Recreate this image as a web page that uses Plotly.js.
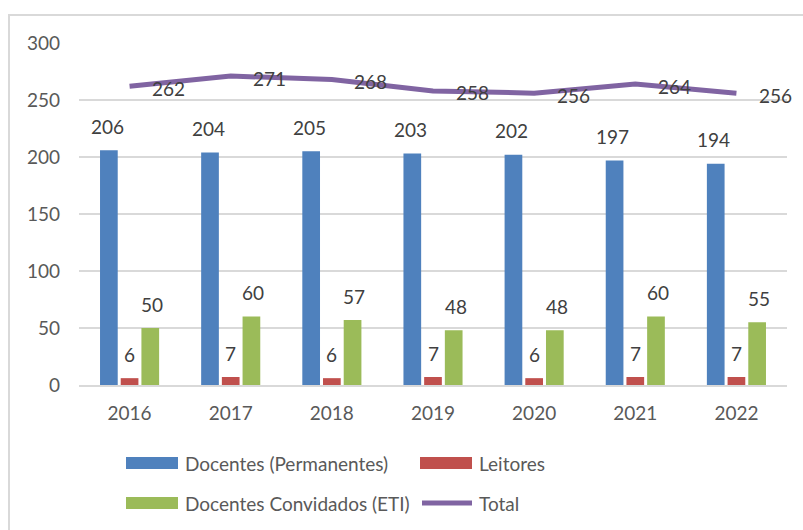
<!DOCTYPE html>
<html>
<head>
<meta charset="utf-8">
<script src="https://cdn.plot.ly/plotly-3.0.1.min.js"></script>
<style>
  body { margin: 0; background: #fff; }
  #plot { width: 803px; height: 530px; }
  #frame { position: absolute; left: 8px; top: 14px; width: 900px; height: 600px;
           border: 2px solid #d9d9d9; pointer-events: none; }
</style>
</head>
<body>
<div id="plot"></div>
<div id="frame"></div>
<script>
var years = ['2016', '2017', '2018', '2019', '2020', '2021', '2022'];
var permanentes = [206, 204, 205, 203, 202, 197, 194];
var leitores = [6, 7, 6, 7, 6, 7, 7];
var convidados = [50, 60, 57, 48, 48, 60, 55];
var total = [262, 271, 268, 258, 256, 264, 256];

var names = ['Docentes (Permanentes)', 'Leitores', 'Docentes Convidados (ETI)', 'Total'];
var colors = ['#4f81bd', '#c0504d', '#9bbb59', '#8064a2'];
var font = 'Lato, "Open Sans", sans-serif';

var barSeries = [permanentes, leitores, convidados];
var traces = [];
for (var s = 0; s < barSeries.length; s++) {
  traces.push({
    type: 'bar', x: years, y: barSeries[s], name: names[s],
    marker: { color: colors[s] }, hoverinfo: 'x+y+name'
  });
}
traces.push({
  type: 'scatter', mode: 'lines', x: years, y: total, name: names[3],
  line: { color: colors[3], width: 5 }
});

// data labels (x given as category index)
var annotations = [];
var shifts = [-22.5, 0, 22.5];
for (var s = 0; s < barSeries.length; s++) {
  for (var i = 0; i < years.length; i++) {
    annotations.push({
      x: i, y: barSeries[s][i], text: String(barSeries[s][i]),
      xref: 'x', yref: 'y', showarrow: false, xshift: shifts[s], yshift: 24,
      font: { family: font, size: 19, color: '#404040' }
    });
  }
}
for (var i = 0; i < years.length; i++) {
  annotations.push({
    x: i, y: total[i], text: String(total[i]),
    xref: 'x', yref: 'y', showarrow: false, xshift: 39, yshift: -2,
    font: { family: font, size: 19, color: '#404040' }
  });
}

// custom legend (2 x 2)
function px(v) { return (v - 79) / 708; }
function py(v) { return (385 - v) / 342; }
var legendPos = [[126, 463], [420, 463], [126, 503], [420, 503]];
var shapes = [];
for (var k = 0; k < 4; k++) {
  var lx = legendPos[k][0], ly = legendPos[k][1];
  if (k < 3) {
    shapes.push({ type: 'rect', xref: 'paper', yref: 'paper',
      x0: px(lx), x1: px(lx + 52), y0: py(ly + 6), y1: py(ly - 6),
      fillcolor: colors[k], line: { width: 0 } });
  } else {
    shapes.push({ type: 'line', xref: 'paper', yref: 'paper',
      x0: px(lx + 2), x1: px(lx + 52), y0: py(ly), y1: py(ly),
      line: { color: colors[k], width: 5 } });
  }
  annotations.push({
    xref: 'paper', yref: 'paper', x: px(lx + 57), y: py(ly),
    xanchor: 'left', yanchor: 'middle', showarrow: false, text: names[k],
    font: { family: font, size: 19, color: '#595959' }
  });
}

var layout = {
  width: 803, height: 530,
  margin: { l: 79, r: 16, t: 43, b: 145 },
  paper_bgcolor: '#fff', plot_bgcolor: '#fff',
  font: { family: font, size: 19, color: '#595959' },
  barmode: 'group', bargap: 0.386, bargroupgap: 0.145,
  showlegend: false,
  xaxis: {
    type: 'category', range: [-0.5, 6.5], showgrid: false, showline: true,
    linecolor: '#d9d9d9', linewidth: 2, ticks: '', ticklabelstandoff: 10,
    tickfont: { family: font, size: 19, color: '#595959' }
  },
  yaxis: {
    range: [0, 300], dtick: 50, showgrid: true, gridcolor: '#d9d9d9', gridwidth: 2,
    zeroline: false, ticks: '', ticklabelstandoff: 18,
    tickfont: { family: font, size: 19, color: '#595959' }
  },
  annotations: annotations,
  shapes: shapes
};

Plotly.newPlot('plot', traces, layout, { displayModeBar: false });
</script>
</body>
</html>
